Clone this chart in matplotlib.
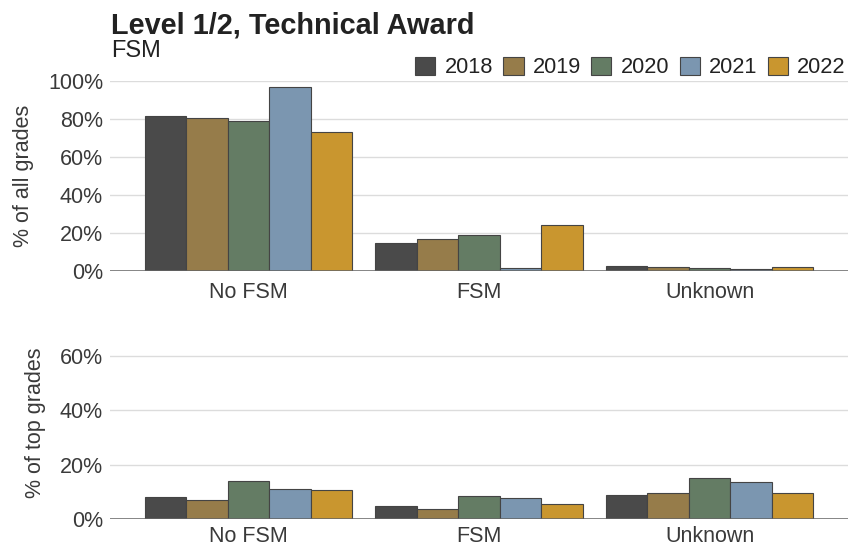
import matplotlib
matplotlib.use("Agg")
import matplotlib.pyplot as plt
from matplotlib.patches import Patch
import numpy as np

plt.rcParams['font.family'] = ['Liberation Sans', 'DejaVu Sans']

categories = ["No FSM", "FSM", "Unknown"]
years = ["2018", "2019", "2020", "2021", "2022"]
colors = ["#4a4a4a", "#967c4a", "#647c64", "#7b96b0", "#c9962f"]

# % of all grades, per year: [No FSM, FSM, Unknown]
all_grades = {
    "2018": [81.7, 14.7, 2.8],
    "2019": [80.5, 17.0, 1.9],
    "2020": [78.9, 18.8, 1.4],
    "2021": [96.8, 1.6, 0.9],
    "2022": [73.2, 24.0, 1.9],
}
# % of top grades
top_grades = {
    "2018": [8.1, 4.7, 8.7],
    "2019": [6.9, 3.6, 9.3],
    "2020": [13.8, 8.5, 15.1],
    "2021": [11.0, 7.8, 13.6],
    "2022": [10.5, 5.3, 9.4],
}
top_ticks = [0, 20, 40, 60, 80, 100]
bottom_ticks = [0, 20, 40, 60]

W, H = 850, 549
fig = plt.figure(figsize=(W / 100, H / 100), dpi=100)

left = 110
right = 848
# top axes: y0 at 271px, 100% at 81px
ax1 = fig.add_axes([left / W, (H - 271) / H, (right - left) / W, 190 / H])
# bottom axes: y0 at 518.7px, 2.71 px per %
pxp = 2.71
ylim2 = 71
ax2 = fig.add_axes([left / W, (H - 518.7) / H, (right - left) / W, ylim2 * pxp / H])

x = np.arange(len(categories))
bw = 0.18
tick_color = "#3a3a3a"

def style(ax, data, ylim, ticks, ylabel, xpad):
    for i, (yr, c) in enumerate(zip(years, colors)):
        ax.bar(x + (i - 2) * bw, data[yr], width=bw, color=c,
               edgecolor="#444444", linewidth=0.8, zorder=3)
    ax.set_xlim(-0.6, 2.6)
    ax.set_ylim(0, ylim)
    ax.set_yticks(ticks)
    ax.set_yticklabels([f"{t}%" for t in ticks])
    ax.set_xticks(x)
    ax.set_xticklabels(categories)
    ax.tick_params(axis="both", length=0, labelsize=15.5, colors=tick_color, pad=5)
    ax.tick_params(axis="x", pad=xpad)
    for s in ax.spines.values():
        s.set_visible(False)
    ax.grid(axis="y", color="#dcdcdc", linewidth=1.0, zorder=0)
    ax.axhline(0, color="#666666", linewidth=1.1, zorder=4)
    ax.set_ylabel(ylabel, fontsize=15.5, color=tick_color, labelpad=10)
    ax.set_facecolor("white")

style(ax1, all_grades, 100, top_ticks, "% of all grades", 8)
style(ax2, top_grades, ylim2, bottom_ticks, "% of top grades", 5)

handles = [Patch(facecolor=c, edgecolor="#444444", linewidth=0.8, label=y)
           for y, c in zip(years, colors)]
ax1.legend(handles=handles, loc="lower right", bbox_to_anchor=(1.0, 1.0),
           ncol=5, frameon=False, fontsize=15.7, handlelength=0.92,
           handleheight=0.92, handletextpad=0.42, columnspacing=0.48,
           borderaxespad=0.0, borderpad=0.12, labelcolor="#222222")

fig.text(111 / W, 1 - 33.3 / H, "Level 1/2, Technical Award", fontsize=20.8,
         fontweight="bold", color="#222222", ha="left", va="baseline")
fig.text(111 / W, 1 - 56.7 / H, "FSM", fontsize=17, color="#222222",
         ha="left", va="baseline")

fig.savefig("out.png", dpi=100, facecolor="white")
